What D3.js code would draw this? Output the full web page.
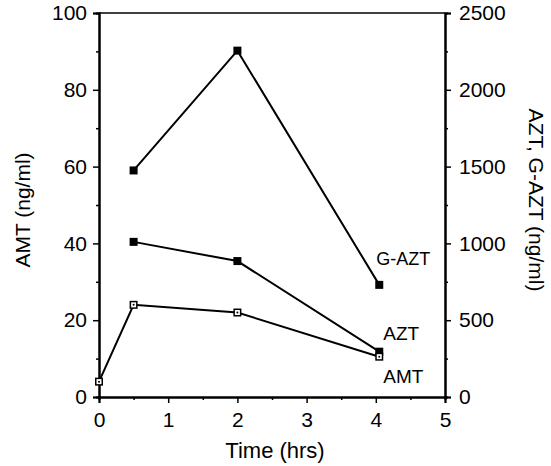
<!DOCTYPE html>
<html><head><meta charset="utf-8">
<script src="https://cdn.jsdelivr.net/npm/d3@7"></script>
<style>
html,body{margin:0;padding:0;background:#fff;}
text{font-family:"Liberation Sans",Arial,Helvetica,sans-serif;fill:#000;}
</style></head>
<body>
<svg id="c" width="551" height="466"></svg>
<script>
// ---- data ----
const amtTimes = [0, 0.5, 2, 4.05];
const amtValues = [4, 24, 22, 10.5];          // ng/ml, left axis
const aztTimes = [0.5, 2, 4.05];
const aztValues = [1010, 885, 295];           // ng/ml, right axis
const gaztTimes = [0.5, 2, 4.05];
const gaztValues = [1475, 2255, 730];         // ng/ml, right axis
const xTicks = [0, 1, 2, 3, 4, 5];
const xMinor = [0.5, 1.5, 2.5, 3.5, 4.5];
const leftTicks = [0, 20, 40, 60, 80, 100];
const leftMinor = [10, 30, 50, 70, 90];
const rightTicks = [0, 500, 1000, 1500, 2000, 2500];
const rightMinor = [250, 750, 1250, 1750, 2250];
const seriesLabels = ["G-AZT", "AZT", "AMT"];

const svg = d3.select("#c");
const L = 99, R = 445, T = 13, B = 397;
const x = d3.scaleLinear().domain([0, 5]).range([L, R]);
const yL = d3.scaleLinear().domain([0, 100]).range([B, T]);
const yR = d3.scaleLinear().domain([0, 2500]).range([B, T]);

const fs = "21px";
// axes
svg.append("g").attr("transform", `translate(${L},0)`)
  .call(d3.axisLeft(yL).tickValues(leftTicks).tickSize(6).tickPadding(6).tickFormat(d3.format("d")));
svg.append("g").attr("transform", `translate(${L},0)`)
  .call(d3.axisLeft(yL).tickValues(leftMinor).tickSize(3).tickFormat(""));
svg.append("g").attr("transform", `translate(${R},0)`)
  .call(d3.axisRight(yR).tickValues(rightTicks).tickSize(6).tickPadding(8).tickFormat(d3.format("d")));
svg.append("g").attr("transform", `translate(${R},0)`)
  .call(d3.axisRight(yR).tickValues(rightMinor).tickSize(3).tickFormat(""));
svg.append("g").attr("transform", `translate(0,${B})`)
  .call(d3.axisBottom(x).tickValues(xTicks).tickSize(6).tickPadding(9).tickFormat(d3.format("d")));
svg.append("g").attr("transform", `translate(0,${B})`)
  .call(d3.axisBottom(x).tickValues(xMinor).tickSize(3).tickFormat(""));
// top border
svg.append("line").attr("x1", L).attr("x2", R).attr("y1", T).attr("y2", T)
  .attr("stroke", "#000").attr("stroke-width", 1.5);

svg.selectAll(".domain").attr("stroke", "#000").attr("stroke-width", 2);
svg.selectAll(".tick line").attr("stroke", "#000").attr("stroke-width", 1.5);
svg.selectAll(".tick text").style("font-size", fs).attr("fill", "#000");
svg.selectAll("g").attr("font-family", null).attr("font-size", null);

// axis titles
svg.append("text").attr("x", 275).attr("y", 458).attr("text-anchor", "middle")
  .attr("fill", "#000").style("font-size", "22px").text("Time (hrs)");
svg.append("text").attr("transform", "translate(30,210) rotate(-90)").attr("text-anchor", "middle")
  .attr("fill", "#000").style("font-size", "21px").text("AMT (ng/ml)");
svg.append("text").attr("transform", "translate(529,200) rotate(90)").attr("text-anchor", "middle")
  .attr("fill", "#000").style("font-size", "21px").text("AZT, G-AZT (ng/ml)");

// lines
const line = (xs, ys, yScale) => d3.line()(xs.map((t, i) => [x(t), yScale(ys[i])]));
[[gaztTimes, gaztValues, yR], [aztTimes, aztValues, yR], [amtTimes, amtValues, yL]].forEach(([xs, ys, s]) => {
  svg.append("path").attr("d", line(xs, ys, s)).attr("fill", "none")
    .attr("stroke", "#000").attr("stroke-width", 2);
});

// markers
const ms = 8;
function filled(xs, ys, s) {
  svg.append("g").selectAll("rect").data(xs).join("rect")
    .attr("x", (d) => x(d) - ms / 2).attr("y", (d, i) => s(ys[i]) - ms / 2)
    .attr("width", ms).attr("height", ms).attr("fill", "#000");
}
filled(gaztTimes, gaztValues, yR);
filled(aztTimes, aztValues, yR);
const gA = svg.append("g");
gA.selectAll("rect").data(amtTimes).join("rect")
  .attr("x", (d) => x(d) - ms / 2 + 0.75).attr("y", (d, i) => yL(amtValues[i]) - ms / 2 + 0.75)
  .attr("width", ms - 1.5).attr("height", ms - 1.5).attr("fill", "#fff")
  .attr("stroke", "#000").attr("stroke-width", 1.5);
gA.selectAll("circle").data(amtTimes).join("circle")
  .attr("cx", (d) => x(d)).attr("cy", (d, i) => yL(amtValues[i])).attr("r", 1).attr("fill", "#000");

// series labels
const last = gaztTimes.length - 1;
svg.append("text").attr("x", x(gaztTimes[last]) - 3).attr("y", yR(gaztValues[last]) - 20)
  .attr("fill", "#000").style("font-size", "18px").text(seriesLabels[0]);
svg.append("text").attr("x", x(aztTimes[last]) + 4).attr("y", yR(aztValues[last]) - 12)
  .attr("fill", "#000").style("font-size", "19px").text(seriesLabels[1]);
svg.append("text").attr("x", x(amtTimes[amtTimes.length - 1]) + 4).attr("y", yL(amtValues[amtValues.length - 1]) + 26)
  .attr("fill", "#000").style("font-size", "19px").text(seriesLabels[2]);
</script>
</body></html>
